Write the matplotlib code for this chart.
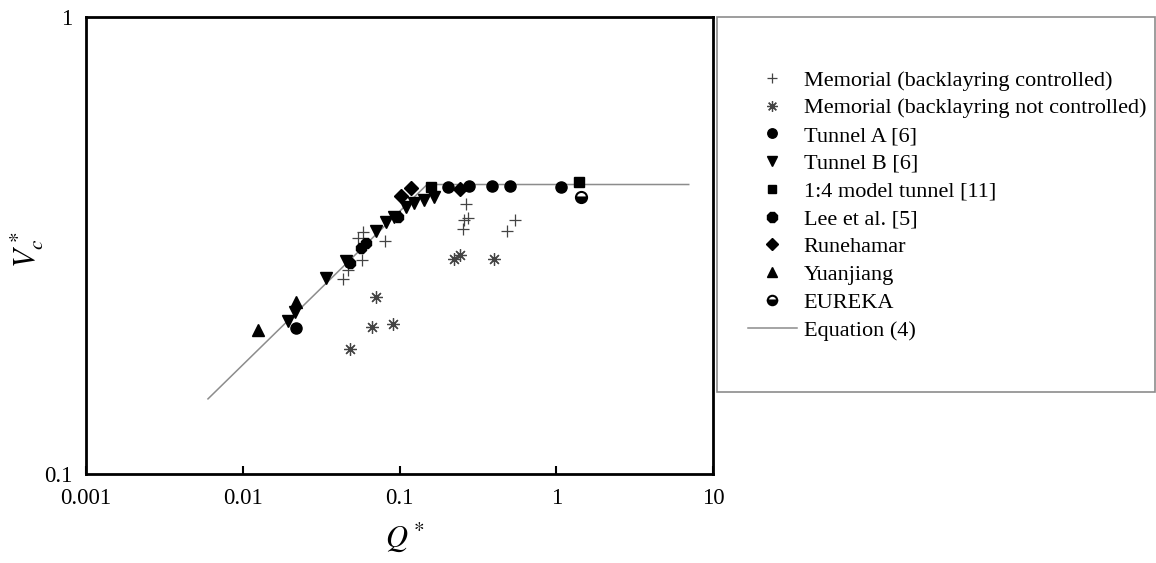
import matplotlib
matplotlib.use("Agg")
import matplotlib.pyplot as plt
from matplotlib.patches import Rectangle

plt.rcParams["font.family"] = ["Liberation Serif", "DejaVu Serif"]
plt.rcParams["mathtext.fontset"] = "stix"

# Memorial (backlayring controlled)
mem_c_q = [0.0436, 0.0469, 0.0578, 0.0809, 0.0542, 0.0583, 0.267, 0.272, 0.259, 0.256, 0.548, 0.482]
mem_c_v = [0.2665, 0.2796, 0.294, 0.3227, 0.328, 0.339, 0.389, 0.3627, 0.3596, 0.3437, 0.3596, 0.340]

# Memorial (backlayring not controlled)
mem_n_q = [0.048, 0.067, 0.0711, 0.0906, 0.224, 0.2437, 0.398]
mem_n_v = [0.1875, 0.21, 0.2443, 0.2129, 0.296, 0.302, 0.296]

# Tunnel A [6]
tun_a_q = [0.022, 0.205, 0.279, 0.389, 0.507, 1.07]
tun_a_v = [0.209, 0.424, 0.427, 0.427, 0.427, 0.424]

# Tunnel B [6]
tun_b_q = [0.0194, 0.0214, 0.0341, 0.0458, 0.0711, 0.0822, 0.0929, 0.110, 0.1246, 0.144, 0.167]
tun_b_v = [0.216, 0.2265, 0.268, 0.2924, 0.3402, 0.3565, 0.3656, 0.3845, 0.391, 0.3977, 0.4044]

# 1:4 model tunnel [11]
model_q = [0.159, 1.387]
model_v = [0.4253, 0.435]

# Lee et al. [5]
lee_q = [0.048, 0.057, 0.0614, 0.0975]
lee_v = [0.289, 0.312, 0.3208, 0.3656]

# Runehamar
rune_q = [0.1026, 0.1187, 0.2437]
rune_v = [0.406, 0.4218, 0.4198]

# Yuanjiang
yuan_q = [0.0125, 0.022]
yuan_v = [0.207, 0.238]

# EUREKA
eureka_q = [1.436]
eureka_v = [0.4044]

# Equation (4)
eq_q = [0.006, 0.15, 7.0]
eq_v = [0.146, 0.43, 0.43]

fig = plt.figure(figsize=(11.56, 5.63), dpi=100)
ax = fig.add_axes([86 / 1156, 1 - 474 / 563, (713 - 86) / 1156, (474 - 17) / 563])

ax.plot(eq_q, eq_v, color="#8c8c8c", lw=1.1, label="Equation (4)", zorder=1)
ax.plot(mem_c_q, mem_c_v, ls="none", marker="+", ms=8, mew=0.9, color="#444444",
        label="Memorial (backlayring controlled)")
ax.plot(mem_n_q, mem_n_v, ls="none", marker=(8, 2, 0), ms=9, mew=0.9, color="#444444",
        label="Memorial (backlayring not controlled)")
ax.plot(tun_a_q, tun_a_v, ls="none", marker="o", ms=8, color="black", label="Tunnel A [6]")
ax.plot(tun_b_q, tun_b_v, ls="none", marker="v", ms=8.5, color="black", label="Tunnel B [6]")
ax.plot(model_q, model_v, ls="none", marker="s", ms=7.5, color="black", label="1:4 model tunnel [11]")
ax.plot(lee_q, lee_v, ls="none", marker="8", ms=8.5, color="black", label="Lee et al. [5]")
ax.plot(rune_q, rune_v, ls="none", marker="D", ms=7, color="black", label="Runehamar")
ax.plot(yuan_q, yuan_v, ls="none", marker="^", ms=8.5, color="black", label="Yuanjiang")
ax.plot(eureka_q, eureka_v, ls="none", marker="o", ms=8, fillstyle="bottom",
        markerfacecolor="black", markerfacecoloralt="white", markeredgecolor="black",
        mew=1.5, label="EUREKA")

ax.set_xscale("log")
ax.set_yscale("log")
ax.set_xlim(0.001, 10)
ax.set_ylim(0.1, 1)
ax.set_xticks([0.001, 0.01, 0.1, 1, 10])
ax.set_xticklabels(["0.001", "0.01", "0.1", "1", "10"])
ax.set_yticks([0.1, 1])
ax.set_yticklabels(["0.1", "1"])
ax.minorticks_off()
ax.tick_params(axis="x", direction="in", length=6, width=1.5, pad=10, labelsize=16.5)
ax.tick_params(axis="y", length=0, pad=10, labelsize=16.5)
for s in ax.spines.values():
    s.set_linewidth(2)

fig.text(405 / 1156, 1 - 537 / 563, "$Q^*$", fontsize=22, ha="center", va="center")
fig.text(27 / 1156, 1 - 250 / 563, "$V_c^*$", fontsize=22, ha="center", va="center", rotation=90)

# legend box
fig.patches.append(Rectangle((717 / 1156, 1 - 392 / 563), (1155 - 717) / 1156, (392 - 17) / 563,
                             transform=fig.transFigure, fill=False, edgecolor="#8c8c8c", lw=1.2))

handles, labels = ax.get_legend_handles_labels()
order = labels[1:] + labels[:1]
hand = handles[1:] + handles[:1]
fig.legend(hand, order, loc="upper left", bbox_to_anchor=(748 / 1156, 1 - 70 / 563),
           frameon=False, fontsize=16, handlelength=2.2, handletextpad=0.3,
           labelspacing=0.325, borderpad=0, borderaxespad=0, markerscale=0.85)

fig.savefig("out.png", dpi=100)
